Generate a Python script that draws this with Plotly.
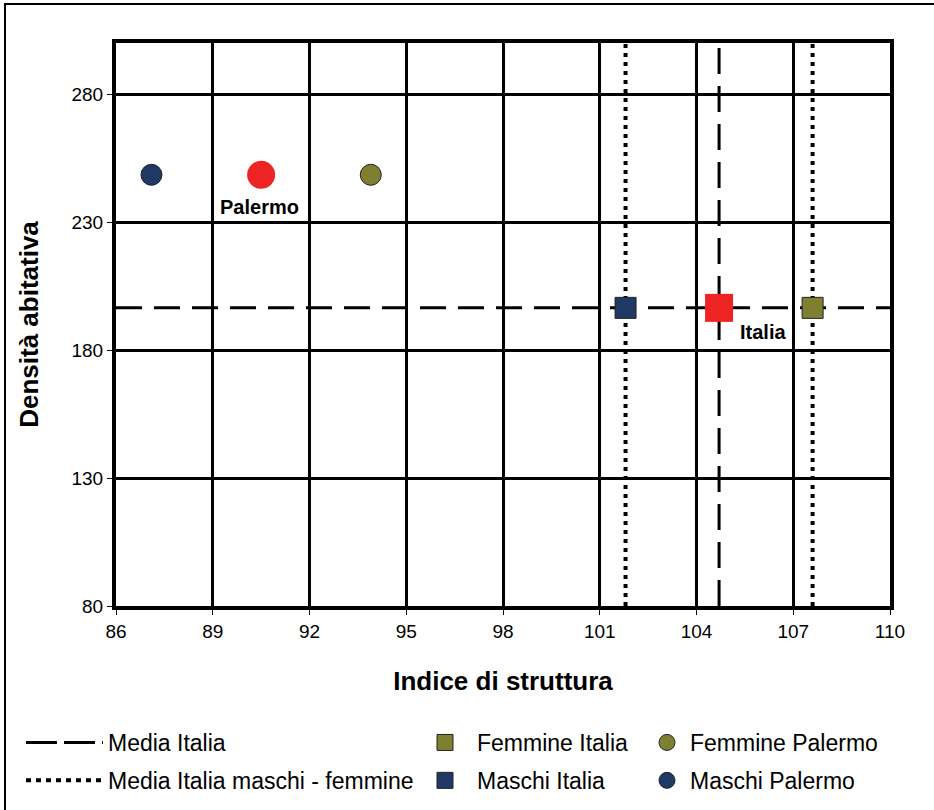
import plotly.graph_objects as go

# ---- data ----
palermo_labels = ["Maschi Palermo", "Palermo", "Femmine Palermo"]
palermo_x = [87.1, 90.5, 93.9]
palermo_y = [248.5, 248.5, 248.5]

italia_labels = ["Maschi Italia", "Italia", "Femmine Italia"]
italia_x = [101.8, 104.7, 107.6]
italia_y = [196.5, 196.5, 196.5]

x_ticks = [86, 89, 92, 95, 98, 101, 104, 107, 110]
y_ticks = [80, 130, 180, 230, 280]
x_range = [86, 110]
y_range = [80, 300]

NAVY = "#1F3864"
OLIVE = "#7F7F32"
RED = "#EE2424"
FONT = "Liberation Sans, Arial, sans-serif"

L, R, T, B = 116, 44, 43, 204
W, H = 934, 810
PW, PH = W - L - R, H - T - B


def px_x(px):
    return (px - L) / PW


def px_y(py):
    return (H - B - py) / PH


fig = go.Figure()

# reference lines (drawn in plot)
mean_x = italia_x[1]
mean_y = italia_y[1]
DASH = dict(color="black", width=3, dash="26px,12px")
DOT = dict(color="black", width=4, dash="4px,5px")
fig.add_trace(go.Scatter(x=[mean_x, mean_x], y=y_range, mode="lines", line=DASH,
                         showlegend=False, hoverinfo="skip"))
fig.add_trace(go.Scatter(x=x_range, y=[mean_y, mean_y], mode="lines", line=DASH,
                         showlegend=False, hoverinfo="skip"))
fig.add_trace(go.Scatter(x=[italia_x[0], italia_x[0]], y=y_range, mode="lines", line=DOT,
                         showlegend=False, hoverinfo="skip"))
fig.add_trace(go.Scatter(x=[italia_x[2], italia_x[2]], y=y_range, mode="lines", line=DOT,
                         showlegend=False, hoverinfo="skip"))

# legend entries for the lines
fig.add_trace(go.Scatter(x=[None], y=[None], mode="lines",
                         line=dict(color="black", width=3, dash="31px,7px"),
                         name="Media Italia", legend="legend", legendgroup="a"))
fig.add_trace(go.Scatter(x=[None], y=[None], mode="lines",
                         line=dict(color="black", width=4, dash="5px,5px"),
                         name="Media Italia maschi - femmine", legend="legend", legendgroup="b"))

# Italia squares
fig.add_trace(go.Scatter(x=[italia_x[2]], y=[italia_y[2]], mode="markers",
                         marker=dict(symbol="square", size=21, color=OLIVE,
                                     line=dict(width=1, color="#222222")),
                         name="Femmine Italia", legend="legend2", legendgroup="fi"))
fig.add_trace(go.Scatter(x=[italia_x[0]], y=[italia_y[0]], mode="markers",
                         marker=dict(symbol="square", size=21, color=NAVY,
                                     line=dict(width=1, color="#222222")),
                         name="Maschi Italia", legend="legend2", legendgroup="mi"))
fig.add_trace(go.Scatter(x=[italia_x[1]], y=[italia_y[1]], mode="markers",
                         marker=dict(symbol="square", size=28, color=RED),
                         name="Italia", showlegend=False))

# Palermo circles
fig.add_trace(go.Scatter(x=[palermo_x[2]], y=[palermo_y[2]], mode="markers",
                         marker=dict(symbol="circle", size=21, color=OLIVE,
                                     line=dict(width=1, color="#222222")),
                         name="Femmine Palermo", legend="legend3", legendgroup="fp"))
fig.add_trace(go.Scatter(x=[palermo_x[0]], y=[palermo_y[0]], mode="markers",
                         marker=dict(symbol="circle", size=21, color=NAVY,
                                     line=dict(width=1, color="#222222")),
                         name="Maschi Palermo", legend="legend3", legendgroup="mp"))
fig.add_trace(go.Scatter(x=[palermo_x[1]], y=[palermo_y[1]], mode="markers",
                         marker=dict(symbol="circle", size=28, color=RED),
                         name="Palermo", showlegend=False))

# labels
fig.add_annotation(x=palermo_x[1], y=palermo_y[1], text="<b>Palermo</b>",
                   showarrow=False, xshift=-2, yshift=-32,
                   font=dict(family=FONT, size=20, color="black"))
fig.add_annotation(x=italia_x[1], y=italia_y[1], text="<b>Italia</b>",
                   showarrow=False, xshift=44, yshift=-24,
                   font=dict(family=FONT, size=20, color="black"))

# outer frame
fig.add_shape(type="rect", xref="paper", yref="paper",
              x0=px_x(5), x1=px_x(1000), y0=px_y(1000), y1=px_y(4),
              line=dict(color="black", width=2), layer="below")

legend_font = dict(family=FONT, size=23, color="black")
legend_y = px_y(721)


def leg(xpx, itemwidth):
    return dict(font=legend_font, bgcolor="rgba(0,0,0,0)", traceorder="grouped",
                tracegroupgap=5, itemwidth=itemwidth, xanchor="left", yanchor="top",
                x=px_x(xpx), y=legend_y)


fig.update_layout(
    width=W, height=H,
    margin=dict(l=L, r=R, t=T, b=B, autoexpand=False),
    paper_bgcolor="white", plot_bgcolor="white",
    font=dict(family=FONT, color="black"),
    showlegend=True,
    legend=leg(21, 77),
    legend2=leg(413, 54),
    legend3=leg(644, 36),
    xaxis=dict(range=x_range, tickvals=x_ticks, ticktext=[str(v) for v in x_ticks],
               showgrid=True, gridcolor="black", gridwidth=3,
               showline=True, linecolor="black", linewidth=4, mirror=True,
               ticks="outside", ticklen=5, tickcolor="black", tickwidth=1,
               tickfont=dict(family=FONT, size=19), zeroline=False,
               title=dict(text="Indice di struttura", standoff=32,
                          font=dict(family=FONT, size=26, weight="bold"))),
    yaxis=dict(range=y_range, tickvals=y_ticks, ticktext=[str(v) for v in y_ticks],
               showgrid=True, gridcolor="black", gridwidth=3,
               showline=True, linecolor="black", linewidth=4, mirror=True,
               ticks="outside", ticklen=5, tickcolor="black", tickwidth=1,
               tickfont=dict(family=FONT, size=19), zeroline=False,
               title=dict(text="Densità abitativa", standoff=26,
                          font=dict(family=FONT, size=26, weight="bold"))),
)

fig.write_html("out.html", config={"displayModeBar": False},
               post_script="document.body.style.margin='0';document.body.style.overflow='hidden';")
